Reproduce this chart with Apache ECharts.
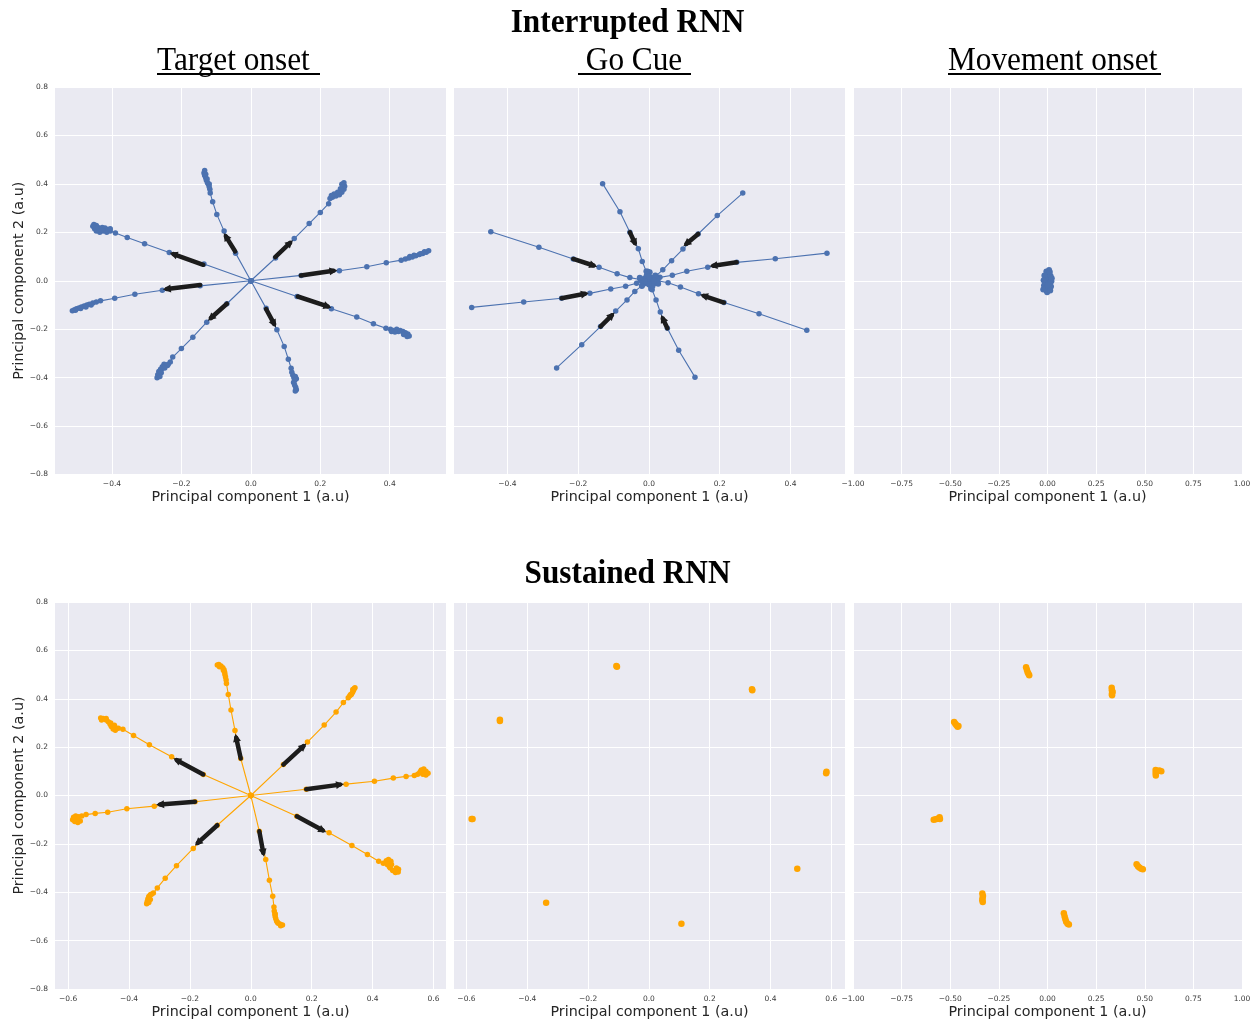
<!DOCTYPE html>
<html>
<head>
<meta charset="utf-8">
<script src="https://cdn.jsdelivr.net/npm/echarts@6/dist/echarts.min.js"></script>
<style>
html,body{margin:0;padding:0;background:#fff;}
#chart{width:1258px;height:1023px;}
</style>
</head>
<body>
<div id="chart"></div>
<script>
// ---------------- DATA ----------------
const xTicksNarrow = [-0.4, -0.2, 0, 0.2, 0.4];
const xTicksWide = [-0.6, -0.4, -0.2, 0, 0.2, 0.4, 0.6];
const xTicksUnit = [-1, -0.75, -0.5, -0.25, 0, 0.25, 0.5, 0.75, 1];

// Interrupted RNN - Target onset: 8 trajectories from the origin
const interruptedTarget = [
  [[0,0],[-0.135,0.069],[-0.235,0.117],[-0.306,0.153],[-0.356,0.179],[-0.390,0.197],[-0.405,0.205],[-0.412,0.212],[-0.42,0.218],[-0.428,0.22],[-0.435,0.215],[-0.425,0.205],[-0.435,0.2],[-0.445,0.205],[-0.45,0.215],[-0.455,0.225],[-0.452,0.232],[-0.445,0.228],[-0.44,0.22],[-0.43,0.21],[-0.415,0.2],[-0.405,0.215]],
  [[0,0],[-0.146,-0.021],[-0.255,-0.039],[-0.334,-0.056],[-0.392,-0.072],[-0.433,-0.083],[-0.445,-0.088],[-0.455,-0.092],[-0.465,-0.097],[-0.472,-0.1],[-0.48,-0.104],[-0.488,-0.108],[-0.495,-0.112],[-0.502,-0.116],[-0.508,-0.12],[-0.514,-0.124],[-0.505,-0.122],[-0.49,-0.115],[-0.475,-0.108],[-0.46,-0.1]],
  [[0,0],[-0.069,-0.095],[-0.127,-0.171],[-0.167,-0.233],[-0.2,-0.28],[-0.225,-0.315],[-0.232,-0.335],[-0.238,-0.345],[-0.245,-0.35],[-0.25,-0.345],[-0.255,-0.355],[-0.26,-0.365],[-0.265,-0.375],[-0.268,-0.388],[-0.27,-0.4],[-0.262,-0.395],[-0.258,-0.38],[-0.24,-0.35],[-0.248,-0.36]],
  [[0,0],[0.044,-0.114],[0.075,-0.202],[0.096,-0.271],[0.108,-0.324],[0.116,-0.361],[0.118,-0.378],[0.121,-0.39],[0.124,-0.4],[0.128,-0.395],[0.131,-0.405],[0.126,-0.412],[0.123,-0.42],[0.126,-0.43],[0.129,-0.44],[0.131,-0.45],[0.128,-0.455]],
  [[0,0],[0.133,-0.065],[0.232,-0.116],[0.305,-0.150],[0.353,-0.178],[0.389,-0.196],[0.402,-0.2],[0.41,-0.205],[0.42,-0.2],[0.43,-0.205],[0.438,-0.21],[0.445,-0.215],[0.452,-0.22],[0.456,-0.228],[0.45,-0.23],[0.44,-0.222],[0.425,-0.21],[0.415,-0.212],[0.405,-0.21]],
  [[0,0],[0.145,0.022],[0.255,0.041],[0.334,0.058],[0.39,0.074],[0.433,0.085],[0.445,0.09],[0.455,0.094],[0.465,0.098],[0.475,0.103],[0.485,0.108],[0.495,0.113],[0.505,0.118],[0.512,0.124],[0.5,0.12],[0.488,0.112],[0.47,0.105],[0.458,0.1]],
  [[0,0],[0.071,0.094],[0.125,0.174],[0.168,0.236],[0.2,0.282],[0.224,0.318],[0.228,0.34],[0.235,0.345],[0.245,0.35],[0.255,0.355],[0.262,0.365],[0.268,0.378],[0.27,0.39],[0.268,0.405],[0.262,0.398],[0.258,0.38],[0.25,0.365],[0.24,0.358],[0.232,0.352]],
  [[0,0],[-0.044,0.114],[-0.077,0.205],[-0.098,0.274],[-0.11,0.326],[-0.117,0.362],[-0.118,0.378],[-0.12,0.388],[-0.122,0.398],[-0.125,0.405],[-0.128,0.415],[-0.13,0.425],[-0.133,0.435],[-0.135,0.445],[-0.133,0.455],[-0.13,0.44],[-0.126,0.42],[-0.12,0.4]]
];
const interruptedTargetArrows = [
  [[-0.137,0.066],[-0.223,0.11]],
  [[-0.146,-0.018],[-0.242,-0.034]],
  [[-0.069,-0.095],[-0.115,-0.154]],
  [[0.044,-0.117],[0.067,-0.178]],
  [[0.135,-0.065],[0.221,-0.106]],
  [[0.144,0.022],[0.238,0.041]],
  [[0.07,0.098],[0.113,0.156]],
  [[-0.045,0.121],[-0.072,0.183]]
];

// Interrupted RNN - Go Cue: trajectories collapsing to the centre
const interruptedGoCue = [
  [[-0.447,0.202],[-0.311,0.138],[-0.214,0.09],[-0.141,0.056],[-0.09,0.029],[-0.054,0.013],[-0.025,0.005],[-0.01,0.002]],
  [[-0.501,-0.110],[-0.354,-0.088],[-0.247,-0.072],[-0.167,-0.052],[-0.108,-0.034],[-0.066,-0.023],[-0.035,-0.01],[-0.015,-0.005]],
  [[-0.261,-0.36],[-0.19,-0.264],[-0.137,-0.189],[-0.094,-0.125],[-0.062,-0.079],[-0.04,-0.044],[-0.02,-0.02],[-0.005,-0.01]],
  [[0.13,-0.398],[0.084,-0.287],[0.052,-0.196],[0.032,-0.129],[0.02,-0.079],[0.009,-0.037],[0.004,-0.02],[0.0,-0.005]],
  [[0.446,-0.204],[0.311,-0.136],[0.212,-0.09],[0.14,-0.054],[0.089,-0.026],[0.054,-0.008],[0.025,0.0],[0.01,0.0]],
  [[0.503,0.114],[0.357,0.091],[0.248,0.076],[0.166,0.056],[0.107,0.039],[0.066,0.023],[0.031,0.014],[0.012,0.006]],
  [[0.265,0.362],[0.193,0.269],[0.139,0.193],[0.096,0.131],[0.064,0.083],[0.039,0.045],[0.02,0.02],[0.008,0.008]],
  [[-0.131,0.401],[-0.082,0.285],[-0.054,0.2],[-0.03,0.132],[-0.019,0.08],[-0.008,0.039],[-0.002,0.02],[0.0,0.008]]
];
const interruptedGoCueCentre = [[0,0],[0.01,0.012],[-0.012,0.01],[0.015,-0.01],[-0.015,-0.012],[0.002,0.035],[-0.004,0.038],[0.006,-0.033],[-0.022,0.002],[0.024,0.006],[0.018,0.022],[-0.02,-0.022],[0.01,-0.022],[-0.006,0.025],[0.026,-0.012],[-0.026,0.012],[0.0,0.018],[0.0,-0.015],[0.014,0.0],[-0.012,-0.002]];
const interruptedGoCueArrows = [
  [[-0.214,0.09],[-0.157,0.063]],
  [[-0.247,-0.072],[-0.181,-0.054]],
  [[-0.137,-0.189],[-0.105,-0.143]],
  [[0.052,-0.196],[0.039,-0.156]],
  [[0.212,-0.09],[0.155,-0.062]],
  [[0.248,0.076],[0.182,0.062]],
  [[0.139,0.193],[0.106,0.153]],
  [[-0.054,0.2],[-0.04,0.156]]
];

// Interrupted RNN - Movement onset: everything near the origin
const interruptedMovement = [[0,0],[0.008,0.012],[-0.008,0.014],[0.012,-0.01],[-0.012,-0.008],[0.004,0.03],[-0.006,0.038],[0.008,0.044],[0.016,0.02],[-0.016,0.022],[0.02,-0.002],[-0.02,0.002],[0.018,-0.024],[-0.018,-0.02],[0.006,-0.034],[-0.006,-0.04],[-0.002,-0.047],[0.012,0.036],[-0.012,-0.032],[0.002,-0.018],[-0.022,-0.036],[0.014,-0.04],[0.022,0.01]];

// Sustained RNN - Target onset
const sustainedTarget = [
  [[0,0],[-0.156,0.087],[-0.26,0.16],[-0.333,0.21],[-0.385,0.248],[-0.42,0.274],[-0.435,0.278],[-0.445,0.27],[-0.452,0.275],[-0.458,0.285],[-0.462,0.295],[-0.468,0.305],[-0.475,0.312],[-0.485,0.318],[-0.493,0.32],[-0.49,0.312],[-0.475,0.318],[-0.46,0.3],[-0.448,0.29],[-0.445,0.28]],
  [[0,0],[-0.183,-0.026],[-0.317,-0.044],[-0.407,-0.055],[-0.47,-0.069],[-0.511,-0.074],[-0.541,-0.079],[-0.555,-0.085],[-0.565,-0.088],[-0.575,-0.085],[-0.582,-0.09],[-0.585,-0.1],[-0.578,-0.108],[-0.568,-0.112],[-0.56,-0.105],[-0.57,-0.098],[-0.58,-0.095]],
  [[0,0],[-0.11,-0.123],[-0.189,-0.219],[-0.244,-0.29],[-0.281,-0.342],[-0.307,-0.382],[-0.32,-0.403],[-0.33,-0.41],[-0.335,-0.418],[-0.338,-0.428],[-0.34,-0.438],[-0.342,-0.448],[-0.335,-0.442],[-0.33,-0.43],[-0.326,-0.408]],
  [[0,0],[0.028,-0.148],[0.049,-0.265],[0.061,-0.35],[0.072,-0.417],[0.076,-0.461],[0.077,-0.478],[0.079,-0.49],[0.08,-0.5],[0.082,-0.51],[0.085,-0.52],[0.09,-0.528],[0.097,-0.532],[0.104,-0.535],[0.098,-0.538],[0.088,-0.525],[0.08,-0.49]],
  [[0,0],[0.151,-0.086],[0.257,-0.154],[0.332,-0.207],[0.383,-0.244],[0.42,-0.272],[0.435,-0.28],[0.445,-0.27],[0.452,-0.265],[0.46,-0.272],[0.462,-0.285],[0.455,-0.295],[0.448,-0.285],[0.458,-0.3],[0.466,-0.31],[0.475,-0.318],[0.484,-0.316],[0.485,-0.305],[0.478,-0.3]],
  [[0,0],[0.182,0.026],[0.313,0.047],[0.406,0.059],[0.468,0.072],[0.51,0.079],[0.537,0.083],[0.548,0.088],[0.555,0.095],[0.56,0.105],[0.568,0.11],[0.575,0.1],[0.582,0.092],[0.575,0.085],[0.565,0.088],[0.558,0.1]],
  [[0,0],[0.107,0.128],[0.186,0.221],[0.241,0.291],[0.28,0.345],[0.304,0.384],[0.32,0.404],[0.325,0.412],[0.33,0.418],[0.334,0.426],[0.337,0.434],[0.34,0.442],[0.342,0.445],[0.335,0.438],[0.328,0.418]],
  [[0,0],[-0.033,0.153],[-0.052,0.269],[-0.065,0.353],[-0.074,0.418],[-0.08,0.463],[-0.081,0.478],[-0.083,0.49],[-0.085,0.5],[-0.086,0.51],[-0.088,0.52],[-0.092,0.528],[-0.098,0.535],[-0.105,0.542],[-0.11,0.54],[-0.103,0.532],[-0.09,0.518]]
];
const sustainedTargetArrows = [
  [[-0.156,0.087],[-0.243,0.146]],
  [[-0.183,-0.026],[-0.298,-0.037]],
  [[-0.11,-0.123],[-0.174,-0.196]],
  [[0.028,-0.148],[0.041,-0.237]],
  [[0.151,-0.086],[0.236,-0.144]],
  [[0.182,0.026],[0.293,0.045]],
  [[0.107,0.128],[0.173,0.204]],
  [[-0.033,0.153],[-0.048,0.239]]
];

// Sustained RNN - Go Cue: states held at the fixed points
const sustainedGoCue = [[-0.107,0.535],[-0.105,0.532],[0.339,0.439],[0.34,0.435],[-0.49,0.313],[-0.49,0.308],[0.584,0.098],[0.583,0.092],[-0.583,-0.097],[-0.58,-0.097],[0.488,-0.303],[-0.338,-0.443],[0.107,-0.53]];

// Sustained RNN - Movement onset
const sustainedMovement = [[-0.11,0.53],[-0.106,0.52],[-0.102,0.51],[-0.098,0.503],[-0.094,0.497],
  [0.33,0.445],[0.331,0.435],[0.335,0.428],[0.331,0.42],[0.332,0.414],
  [-0.48,0.304],[-0.474,0.297],[-0.468,0.29],[-0.462,0.284],[-0.458,0.287],
  [0.556,0.105],[0.556,0.093],[0.557,0.083],[0.565,0.1],[0.575,0.103],[0.585,0.1],
  [-0.585,-0.1],[-0.575,-0.098],[-0.565,-0.096],[-0.555,-0.09],[-0.553,-0.097],
  [0.458,-0.284],[0.465,-0.292],[0.472,-0.298],[0.482,-0.303],[0.49,-0.305],
  [-0.335,-0.405],[-0.332,-0.415],[-0.334,-0.425],[-0.335,-0.433],[-0.333,-0.44],
  [0.084,-0.487],[0.088,-0.5],[0.092,-0.512],[0.096,-0.522],[0.103,-0.53],[0.11,-0.533]];

// ---------------- LAYOUT / STYLE ----------------
const BLUE = '#4C72B0', ORANGE = '#FFA500', ARROW = '#1c1c1c';
const panels = [
  {box:{left:55,top:87,width:391,height:387.5}, xr:[-0.564,0.562], xt:xTicksNarrow, dec:1, yl:true},
  {box:{left:454,top:87,width:391,height:387.5}, xr:[-0.551,0.554], xt:xTicksNarrow, dec:1, yl:false},
  {box:{left:853,top:87,width:389,height:387.5}, xr:[-1,1], xt:xTicksUnit, dec:2, yl:false},
  {box:{left:55,top:602,width:391,height:387}, xr:[-0.643,0.641], xt:xTicksWide, dec:1, yl:true},
  {box:{left:454,top:602,width:391,height:387}, xr:[-0.641,0.645], xt:xTicksWide, dec:1, yl:false},
  {box:{left:853,top:602,width:389,height:387}, xr:[-1,1], xt:xTicksUnit, dec:2, yl:false}
];
function fmt(v, d){ const s = Math.abs(v).toFixed(d); return (v < -1e-9 ? '\u2212' : '') + s; }

const tickFont = {fontFamily:'DejaVu Sans', fontSize:7.5, color:'#3a3a3a'};
const nameFont = {fontFamily:'DejaVu Sans', fontSize:14.3, color:'#262626'};

const grid = [], xAxis = [], yAxis = [];
panels.forEach((p, i) => {
  grid.push(Object.assign({show:true, backgroundColor:'#EAEAF2', borderWidth:0, containLabel:false}, p.box));
  xAxis.push({
    type:'value', gridIndex:i, min:p.xr[0], max:p.xr[1],
    name:'Principal component 1 (a.u)', nameLocation:'middle', nameGap:16, nameTextStyle:nameFont,
    axisLine:{show:false}, axisTick:{show:false, customValues:p.xt},
    axisLabel:Object.assign({customValues:p.xt, margin:6, formatter:(v)=>fmt(v,p.dec), hideOverlap:false}, tickFont),
    splitLine:{show:true, lineStyle:{color:'#ffffff', width:1}}
  });
  yAxis.push({
    type:'value', gridIndex:i, min:-0.8, max:0.8, interval:0.2,
    name: p.yl ? 'Principal component 2 (a.u)' : '', nameLocation:'middle', nameGap:29, nameRotate:90, nameTextStyle:nameFont,
    axisLine:{show:false}, axisTick:{show:false},
    axisLabel:Object.assign({show:p.yl, margin:7, formatter:(v)=>fmt(v,1)}, tickFont),
    splitLine:{show:true, lineStyle:{color:'#ffffff', width:1}}
  });
});

const series = [];
function addTraj(list, idx, color){
  list.forEach(b => series.push({
    type:'line', xAxisIndex:idx, yAxisIndex:idx, data:b, symbol:'circle', symbolSize:5.5, showAllSymbol:true,
    lineStyle:{color:color, width:1.1}, itemStyle:{color:color}, animation:false, silent:true, z:2
  }));
}
function addArrows(list, idx){
  series.push({
    type:'lines', coordinateSystem:'cartesian2d', xAxisIndex:idx, yAxisIndex:idx,
    data:list.map(a => ({coords:a})), symbol:['none','triangle'], symbolSize:[9,8],
    lineStyle:{color:ARROW, width:4.5, opacity:1, cap:'round'}, animation:false, silent:true, z:5
  });
}
function addScatter(list, idx, color, size){
  series.push({type:'scatter', xAxisIndex:idx, yAxisIndex:idx, data:list, symbolSize:size,
    itemStyle:{color:color, opacity:1}, animation:false, silent:true, z:3});
}
addTraj(interruptedTarget, 0, BLUE); addArrows(interruptedTargetArrows, 0);
addTraj(interruptedGoCue, 1, BLUE); addScatter(interruptedGoCueCentre, 1, BLUE, 6); addArrows(interruptedGoCueArrows, 1);
addScatter(interruptedMovement, 2, BLUE, 6);
addTraj(sustainedTarget, 3, ORANGE); addArrows(sustainedTargetArrows, 3);
addScatter(sustainedGoCue, 4, ORANGE, 6.5);
addScatter(sustainedMovement, 5, ORANGE, 6.5);

const SX = 0.92;
const bold = 'bold 34px "Liberation Serif", "Times New Roman", serif';
const reg = '34px "Liberation Serif", "Times New Roman", serif';
const graphic = [
  {type:'text', x:627.5, y:23, scaleX:SX, style:{text:'Interrupted RNN', font:bold, fill:'#000', align:'center', verticalAlign:'middle'}},
  {type:'text', x:627.5, y:574, scaleX:SX, style:{text:'Sustained RNN', font:bold, fill:'#000', align:'center', verticalAlign:'middle'}},
  {type:'text', x:157, y:61, scaleX:SX, style:{text:'Target onset ', font:reg, fill:'#000', align:'left', verticalAlign:'middle'}},
  {type:'text', x:578, y:61, scaleX:SX, style:{text:' Go Cue', font:reg, fill:'#000', align:'left', verticalAlign:'middle'}},
  {type:'text', x:948, y:61, scaleX:SX, style:{text:'Movement onset', font:reg, fill:'#000', align:'left', verticalAlign:'middle'}},
  {type:'line', shape:{x1:157, y1:74, x2:320, y2:74}, style:{stroke:'#000', lineWidth:2}},
  {type:'line', shape:{x1:578, y1:74, x2:691, y2:74}, style:{stroke:'#000', lineWidth:2}},
  {type:'line', shape:{x1:948, y1:74, x2:1161, y2:74}, style:{stroke:'#000', lineWidth:2}}
];

const chart = echarts.init(document.getElementById('chart'), null, {renderer:'canvas'});
chart.setOption({backgroundColor:'#ffffff', animation:false, grid, xAxis, yAxis, series, graphic});
</script>
</body>
</html>
